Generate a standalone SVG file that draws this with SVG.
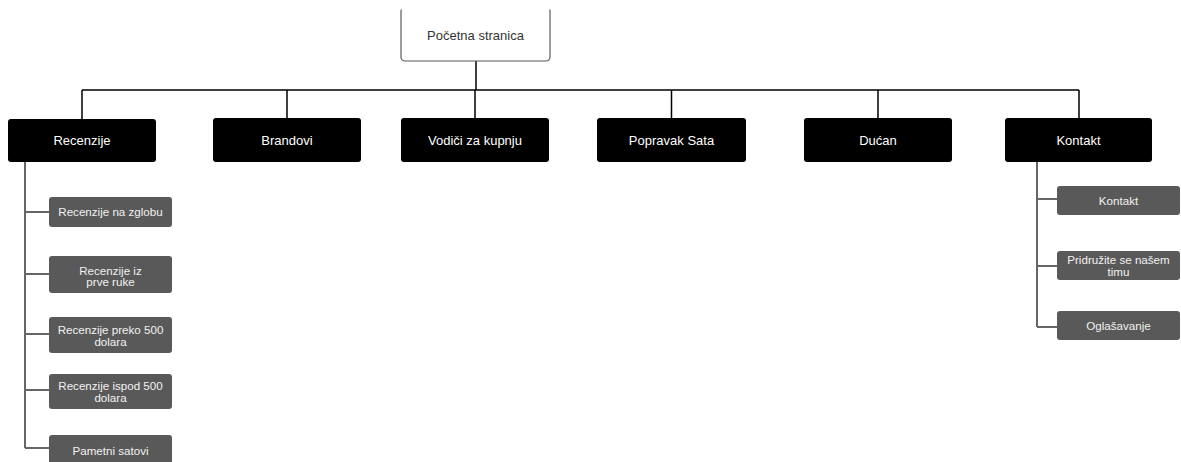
<svg xmlns="http://www.w3.org/2000/svg" width="1181" height="462" viewBox="0 0 1181 462">
<style>
.top{fill:#fff;stroke:#5a5a5a;stroke-width:1.2}
.main{fill:#000}
.sub{fill:#595959}
.tt{font-family:"Liberation Sans",Arial,sans-serif;font-size:13px;fill:#333;text-anchor:middle}
.mt{font-family:"Liberation Sans",Arial,sans-serif;font-size:13px;fill:#fff;text-anchor:middle}
.st{font-family:"Liberation Sans",Arial,sans-serif;font-size:11.6px;fill:#f2f2f2;text-anchor:middle}
.ln{fill:none;stroke:#000;stroke-width:1.5}
.gl{fill:none;stroke:#666;stroke-width:2}
</style>
<defs><clipPath id="cut"><rect x="390" y="9.5" width="170" height="60"/></clipPath></defs>
<rect width="1181" height="462" fill="#fff"/>
<g id="connectors">
<path class="ln" d="M476 61V90M82 90H1079M82 90V119M287 90V118M475 90V118M671.5 90V118M878 90V118M1079 90V118"/>
<path class="gl" d="M25 162V448M25 212H49M25 274H49M25 334H49M25 390H49M25 448H49"/>
<path class="gl" d="M1037 162V327M1037 199H1057M1037 266H1057M1037 327H1057"/>
</g>
<g id="pocetna"><rect class="top" x="401" y="7" width="149" height="54" rx="4" clip-path="url(#cut)"/><text class="tt" x="475.5" y="40">Početna stranica</text></g>
<g id="recenzije"><rect class="main" x="8" y="119" width="148" height="43" rx="3"/><text class="mt" x="82" y="145">Recenzije</text></g>
<g id="brandovi"><rect class="main" x="213" y="118" width="148" height="44" rx="3"/><text class="mt" x="287" y="144.5">Brandovi</text></g>
<g id="vodici"><rect class="main" x="401" y="118" width="148" height="44" rx="3"/><text class="mt" x="475" y="144.5">Vodiči za kupnju</text></g>
<g id="popravak"><rect class="main" x="597" y="118" width="149" height="44" rx="3"/><text class="mt" x="671.5" y="144.5">Popravak Sata</text></g>
<g id="ducan"><rect class="main" x="804" y="118" width="148" height="44" rx="3"/><text class="mt" x="878" y="144.5">Dućan</text></g>
<g id="kontakt"><rect class="main" x="1005" y="118" width="147" height="44" rx="3"/><text class="mt" x="1078.5" y="144.5">Kontakt</text></g>
<g id="r1"><rect class="sub" x="49" y="197" width="123" height="30" rx="3"/><text class="st" x="110.5" y="216">Recenzije na zglobu</text></g>
<g id="r2"><rect class="sub" x="49" y="256" width="123" height="37" rx="3"/><text class="st" x="110.5" y="274.5">Recenzije iz</text><text class="st" x="110.5" y="286">prve ruke</text></g>
<g id="r3"><rect class="sub" x="49" y="317" width="123" height="36" rx="3"/><text class="st" x="110.5" y="334">Recenzije preko 500</text><text class="st" x="110.5" y="345.5">dolara</text></g>
<g id="r4"><rect class="sub" x="49" y="374" width="123" height="35" rx="3"/><text class="st" x="110.5" y="390">Recenzije ispod 500</text><text class="st" x="110.5" y="401.5">dolara</text></g>
<g id="r5"><rect class="sub" x="49" y="435" width="123" height="30" rx="3"/><text class="st" x="110.5" y="455">Pametni satovi</text></g>
<g id="k1"><rect class="sub" x="1057" y="186" width="123" height="29" rx="3"/><text class="st" x="1118.5" y="204.5">Kontakt</text></g>
<g id="k2"><rect class="sub" x="1057" y="251" width="123" height="29" rx="3"/><text class="st" x="1118.5" y="264">Pridružite se našem</text><text class="st" x="1118.5" y="275.5">timu</text></g>
<g id="k3"><rect class="sub" x="1057" y="311" width="123" height="29" rx="3"/><text class="st" x="1118.5" y="329.5">Oglašavanje</text></g>
</svg>
